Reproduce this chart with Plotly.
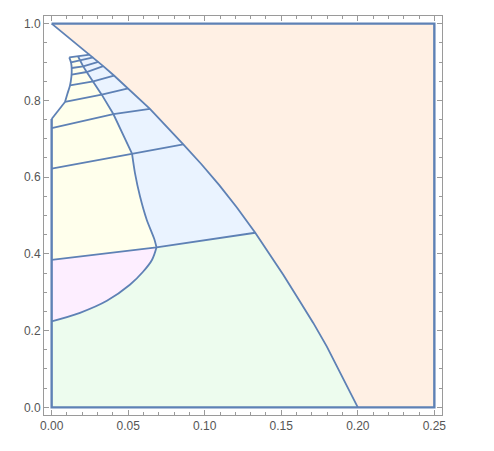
import plotly.graph_objects as go

# ---- data ----
# outer boundary curve (peach region edge), from (0,1) down to (0.2,0)
outer_x = [0.0, 0.025, 0.0272, 0.0305, 0.0337, 0.0407, 0.050, 0.0642, 0.0860, 0.098,
           0.1095, 0.121, 0.1330, 0.1426, 0.1513, 0.1618, 0.1709, 0.1797, 0.1884, 0.2]
outer_y = [1.0, 0.9195, 0.912, 0.9005, 0.8893, 0.8648, 0.8315, 0.778, 0.6855, 0.633,
           0.579, 0.5207, 0.455, 0.3984, 0.3453, 0.2785, 0.2200, 0.1590, 0.0920, 0.0]

# pink / green boundary curve, from (0,0.2243) up to the junction
pink_x = [0.0, 0.0185, 0.0361, 0.0511, 0.0597, 0.0656, 0.0685]
pink_y = [0.2243, 0.2464, 0.2777, 0.3194, 0.3533, 0.3846, 0.417]

# left boundary of the yellow region (above x=0 edge)
left_x = [0.0, 0.0087, 0.0103, 0.012, 0.0129, 0.0131, 0.0127, 0.0115]
left_y = [0.7515, 0.796, 0.8175, 0.839, 0.862, 0.880, 0.898, 0.912]

# divider between yellow and blue, from top down to the junction
div_x = [0.0172, 0.0185, 0.0206, 0.0229, 0.0272, 0.0327, 0.0403, 0.0525, 0.0544,
         0.0577, 0.0621, 0.0672, 0.0685]
div_y = [0.915, 0.904, 0.8887, 0.874, 0.8496, 0.815, 0.7645, 0.661, 0.611,
         0.550, 0.489, 0.437, 0.417]

# cross lines: (left end, divider point, outer end)
grid_x = [[0.0115, 0.0172, 0.025],
          [0.0126, 0.0185, 0.0272],
          [0.0131, 0.0206, 0.0305],
          [0.0131, 0.0229, 0.0337],
          [0.012, 0.0272, 0.0407],
          [0.0087, 0.0327, 0.050],
          [0.0, 0.0403, 0.0642],
          [0.0, 0.0525, 0.0860],
          [0.0, 0.0685, 0.1330]]
grid_y = [[0.912, 0.915, 0.9195],
          [0.899, 0.904, 0.912],
          [0.8845, 0.8887, 0.9005],
          [0.867, 0.874, 0.8893],
          [0.839, 0.8496, 0.8648],
          [0.796, 0.815, 0.8315],
          [0.728, 0.7645, 0.778],
          [0.622, 0.661, 0.6855],
          [0.3846, 0.417, 0.455]]

x_ticks = [0.0, 0.05, 0.10, 0.15, 0.20, 0.25]
x_labels = ["0.00", "0.05", "0.10", "0.15", "0.20", "0.25"]
y_ticks = [0.0, 0.2, 0.4, 0.6, 0.8, 1.0]
y_labels = ["0.0", "0.2", "0.4", "0.6", "0.8", "1.0"]

LINE = "rgb(94,129,181)"
C_PEACH = "rgb(255,240,228)"
C_GREEN = "rgb(237,252,238)"
C_BLUE = "rgb(234,243,255)"
C_YELLOW = "rgb(255,255,236)"
C_PINK = "rgb(253,238,255)"

fig = go.Figure()

def region(xs, ys, color):
    fig.add_trace(go.Scatter(x=xs, y=ys, mode="lines", fill="toself", fillcolor=color,
                             line=dict(width=0), hoverinfo="skip", showlegend=False))

i8 = outer_x.index(grid_x[8][2])
i0 = outer_x.index(grid_x[0][2])
# peach
region([0.0, 0.25, 0.25] + outer_x[::-1], [1.0, 1.0, 0.0] + outer_y[::-1], C_PEACH)
# green
region([0.0] + outer_x[i8:][::-1] + [grid_x[8][1]] + pink_x[::-1],
       [0.0] + outer_y[i8:][::-1] + [grid_y[8][1]] + pink_y[::-1], C_GREEN)
# pink
region(pink_x + [grid_x[8][0]], pink_y + [grid_y[8][0]], C_PINK)
# yellow
region([grid_x[8][0]] + div_x[::-1] + left_x[::-1],
       [grid_y[8][0]] + div_y[::-1] + left_y[::-1], C_YELLOW)
# blue
region(div_x + outer_x[i0:i8 + 1][::-1], div_y + outer_y[i0:i8 + 1][::-1], C_BLUE)

def edge(xs, ys, width=1.8, shape="linear", smoothing=1.0):
    fig.add_trace(go.Scatter(x=xs, y=ys, mode="lines",
                             line=dict(color=LINE, width=width, shape=shape,
                                       smoothing=smoothing),
                             hoverinfo="skip", showlegend=False))

k = div_y.index(grid_y[7][1])
edge(outer_x, outer_y)
edge(pink_x, pink_y, shape="spline", smoothing=1.0)
edge(left_x[1:], left_y[1:], shape="spline", smoothing=0.6)
edge(left_x[:2], left_y[:2])
edge(div_x[:k + 1], div_y[:k + 1])
edge(div_x[k:], div_y[k:], shape="spline", smoothing=0.6)
for gx, gy in zip(grid_x, grid_y):
    edge(gx, gy)
edge([0.0, 0.25, 0.25, 0.0, 0.0], [1.0, 1.0, 0.0, 0.0, left_y[0]], width=2.4)

axis_common = dict(showgrid=False, zeroline=False, showline=True, linecolor="#9a9a9a",
                   linewidth=1, mirror="ticks", ticks="inside", ticklen=5,
                   tickcolor="#9a9a9a", tickwidth=1,
                   tickfont=dict(family="Liberation Sans, Arial", size=12, color="#555555"))

fig.update_xaxes(range=[-0.005, 0.255], tickvals=x_ticks, ticktext=x_labels,
                 minor=dict(dtick=0.01, tick0=0, ticks="inside", ticklen=3,
                            tickcolor="#9a9a9a", showgrid=False),
                 **axis_common)
fig.update_yaxes(range=[-0.02, 1.02], tickvals=y_ticks, ticktext=y_labels,
                 minor=dict(dtick=0.05, tick0=0, ticks="inside", ticklen=3,
                            tickcolor="#9a9a9a", showgrid=False),
                 **axis_common)

# page body has an 8px margin, so the figure is sized/offset to compensate
fig.update_layout(width=478, height=435,
                  margin=dict(l=36, r=44, t=8, b=28),
                  plot_bgcolor="white", paper_bgcolor="white")

fig.write_html("out.html")
